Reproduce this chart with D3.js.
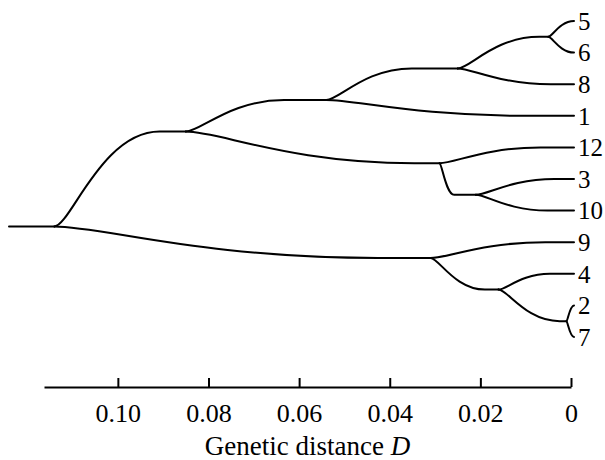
<!DOCTYPE html>
<html lang="en">
<head>
<meta charset="UTF-8">
<title>Dendrogram - genetic distance D</title>
<script src="https://d3js.org/d3.v7.min.js"></script>
<style>
  body { margin: 0; background: #fff; }
  svg text { font-family: "Liberation Serif", "DejaVu Serif", serif; fill: #000; }
</style>
</head>
<body>
<svg width="605" height="460"></svg>
<script>
// leaves, top to bottom
const leafOrder = ["5", "6", "8", "1", "12", "3", "10", "9", "4", "2", "7"];

// tree nodes: id, parent, genetic distance D at the node
const nodeIds     = ["root", "n1", "n2", "n3", "n4", "n5", "n6", "n7", "n8", "n9",
                     "5", "6", "8", "1", "12", "3", "10", "9", "4", "2", "7"];
const nodeParents = ["", "root", "n1", "n2", "n3", "n1", "n5", "root", "n7", "n8",
                     "n4", "n4", "n3", "n2", "n5", "n6", "n6", "n7", "n8", "n9", "n9"];
const nodeHeights = [0.114, 0.085, 0.054, 0.025, 0.005, 0.029, 0.021, 0.031, 0.016, 0.001,
                     0, 0, 0, 0, 0, 0, 0, 0, 0, 0, 0];

const tickValues = [0.10, 0.08, 0.06, 0.04, 0.02, 0];
const tickLabels = ["0.10", "0.08", "0.06", "0.04", "0.02", "0"];

// how far along a branch the curve runs before it goes flat
const bend = { n2: 0.7, n3: 0.65, n4: 0.9, n5: 0.9, n6: 0.4, n7: 0.86, n9: 0.9,
               "4": 0.68, "10": 0.73, "12": 0.75, "5": 1, "6": 1, "2": 1, "7": 1 };

const serif = "Liberation Serif, DejaVu Serif, serif";
const svg = d3.select("svg");

const x = d3.scaleLinear().domain([0.1163, 0]).range([44, 571]);
const y = d3.scaleLinear().domain([0, leafOrder.length - 1]).range([21, 337]);

const table = nodeIds.map((id, i) => ({ id: id, parent: nodeParents[i] || null, D: nodeHeights[i] }));
const root = d3.stratify().id(d => d.id).parentId(d => d.parent)(table);

const firstRow = n => d3.min(n.leaves(), l => leafOrder.indexOf(l.id));
const lastRow = n => d3.max(n.leaves(), l => leafOrder.indexOf(l.id));
root.sort((a, b) => firstRow(a) - firstRow(b));

// node positions
root.eachAfter(n => {
  if (!n.children) {
    n.row = leafOrder.indexOf(n.id);
    n.px = x(0) + 3;
  } else {
    n.row = (lastRow(n.children[0]) + firstRow(n.children[1])) / 2;
    n.px = x(n.data.D);
  }
  n.py = y(n.row);
});

// curve leaves the parent quickly and flattens out slowly
function branch(l) {
  const p = l.source, c = l.target;
  const b = bend[c.id] !== undefined ? bend[c.id] : 0.8;
  const span = (c.px - p.px) * b;
  const xm = p.px + span;
  const path = d3.path();
  path.moveTo(p.px, p.py);
  path.bezierCurveTo(p.px + span * 0.15, p.py, p.px + span * 0.45, c.py, xm, c.py);
  path.lineTo(c.px, c.py);
  return path.toString();
}

const g = svg.append("g")
  .attr("fill", "none")
  .attr("stroke", "#000")
  .attr("stroke-width", 2)
  .attr("stroke-linecap", "round");

// root stem
g.append("line")
  .attr("x1", 9).attr("x2", root.px)
  .attr("y1", root.py).attr("y2", root.py);

g.selectAll("path.branch")
  .data(root.links())
  .join("path")
  .attr("class", "branch")
  .attr("d", branch);

svg.selectAll("text.leaf")
  .data(root.leaves())
  .join("text")
  .attr("class", "leaf")
  .attr("x", d => d.px + 4)
  .attr("y", d => d.py)
  .attr("dy", "0.35em")
  .attr("font-family", serif)
  .attr("font-size", 25)
  .text(d => d.id);

// axis
const axis = d3.axisBottom(x)
  .tickValues(tickValues)
  .tickFormat((d, i) => tickLabels[i])
  .tickSizeInner(-9)
  .tickSizeOuter(0)
  .tickPadding(17);

const ax = svg.append("g")
  .attr("transform", "translate(0,387)")
  .call(axis)
  .attr("font-family", serif)
  .attr("font-size", 26);
ax.select(".domain").attr("stroke-width", 2);
ax.selectAll(".tick line").attr("stroke-width", 2);

const title = svg.append("text")
  .attr("x", (x.range()[0] + x.range()[1]) / 2)
  .attr("y", 455)
  .attr("text-anchor", "middle")
  .attr("font-family", serif)
  .attr("font-size", 27);
title.append("tspan").text("Genetic distance ");
title.append("tspan").attr("font-style", "italic").text("D");
</script>
</body>
</html>
